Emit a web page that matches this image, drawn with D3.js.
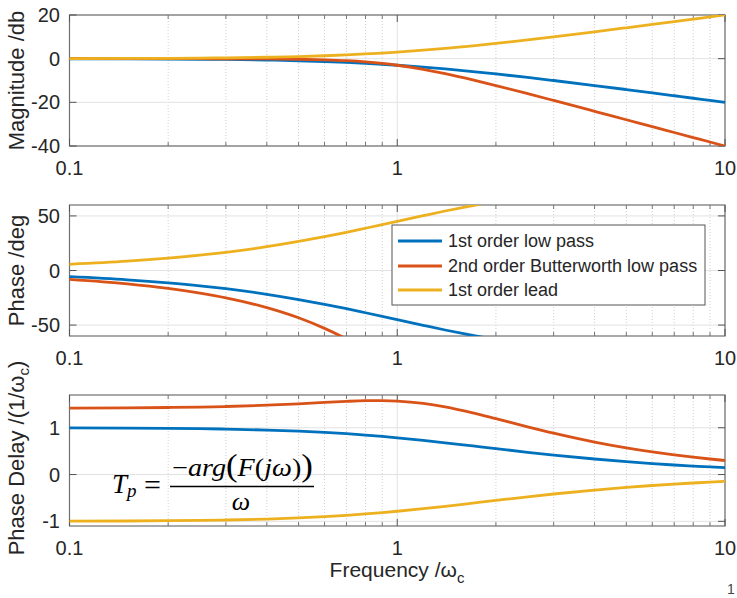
<!DOCTYPE html>
<html><head><meta charset="utf-8">
<script src="https://cdn.jsdelivr.net/npm/d3@7"></script>
<style>
body{margin:0;background:#fff}
</style>
</head><body>
<svg id="chart" width="737" height="598" font-family="Arial, 'Liberation Sans', Helvetica, sans-serif"></svg>
<script>
// ---------- data ----------
const freq = [0.1,0.15,0.2,0.25,0.3,0.4,0.5,0.6,0.7,0.8,0.9,1,1.2,1.4,1.7,2,2.5,3,4,5,6,7,8,9,10];
const seriesNames = ["1st order low pass","2nd order Butterworth low pass","1st order lead"];
const seriesColors = ["#0072BD","#D95319","#EDB120"];

const magLowPass = [-0.04,-0.10,-0.17,-0.26,-0.37,-0.64,-0.97,-1.34,-1.73,-2.15,-2.58,-3.01,-3.87,-4.71,-5.90,-6.99,-8.60,-10.0,-12.30,-14.15,-15.68,-16.99,-18.13,-19.14,-20.04];
const magButter  = [0,0,-0.01,-0.02,-0.04,-0.11,-0.26,-0.53,-0.93,-1.49,-2.19,-3.01,-4.88,-6.85,-9.71,-12.30,-16.03,-19.14,-24.10,-27.97,-31.13,-33.81,-36.13,-38.17,-40.0];
const magLead    = [0.04,0.10,0.17,0.26,0.37,0.64,0.97,1.34,1.73,2.15,2.58,3.01,3.87,4.71,5.90,6.99,8.60,10.0,12.30,14.15,15.68,16.99,18.13,19.14,20.04];

const phaseLowPass = [-5.7,-8.5,-11.3,-14.0,-16.7,-21.8,-26.6,-31.0,-35.0,-38.7,-42.0,-45.0,-50.2,-54.5,-59.5,-63.4,-68.2,-71.6,-76.0,-78.7,-80.5,-81.9,-82.9,-83.7,-84.3];
const phaseButter  = [-8.1,-12.2,-16.4,-20.7,-25.0,-34.0,-43.3,-53.0,-62.7,-72.4,-81.5,-90.0,-104.5,-115.9,-128.2,-136.7,-146.0,-152.1,-159.3,-163.6,-166.4,-168.4,-169.8,-171.0,-171.9];
const phaseLead    = [5.7,8.5,11.3,14.0,16.7,21.8,26.6,31.0,35.0,38.7,42.0,45.0,50.2,54.5,59.5,63.4,68.2,71.6,76.0,78.7,80.5,81.9,82.9,83.7,84.3];

const delayLowPass = [0.997,0.993,0.987,0.980,0.972,0.951,0.927,0.901,0.873,0.843,0.814,0.785,0.730,0.679,0.611,0.554,0.476,0.416,0.332,0.275,0.234,0.204,0.181,0.162,0.147];
const delayButter  = [1.419,1.424,1.433,1.442,1.454,1.482,1.512,1.541,1.564,1.578,1.581,1.571,1.521,1.445,1.316,1.193,1.020,0.885,0.695,0.571,0.484,0.420,0.371,0.332,0.300];
const delayLead    = [-0.997,-0.993,-0.987,-0.980,-0.972,-0.951,-0.927,-0.901,-0.873,-0.843,-0.814,-0.785,-0.730,-0.679,-0.611,-0.554,-0.476,-0.416,-0.332,-0.275,-0.234,-0.204,-0.181,-0.162,-0.147];

const xTicks = [0.1,1,10];
const xTickLabels = ["0.1","1","10"];
const xMinorTicks = [0.2,0.3,0.4,0.5,0.6,0.7,0.8,0.9,2,3,4,5,6,7,8,9];
const magTicks = [-40,-20,0,20];
const phaseTicks = [-50,0,50];
const delayTicks = [-1,0,1];

// ---------- layout ----------
const svg = d3.select("#chart");
const left = 69.5, right = 725;
const x = d3.scaleLog().domain([0.1,10]).range([left,right]);
const textColor = "#262626";

const panels = [
  {top:15, bottom:146, domain:[-40,20], ticks:magTicks, data:[magLowPass,magButter,magLead], label:"Magnitude /db"},
  {top:205, bottom:336, domain:[-60,60], ticks:phaseTicks, data:[phaseLowPass,phaseButter,phaseLead], label:"Phase /deg"},
  {top:395, bottom:526, domain:[-1.1,1.7], ticks:delayTicks, data:[delayLowPass,delayButter,delayLead], label:null}
];

panels.forEach((p,i) => {
  const y = d3.scaleLinear().domain(p.domain).range([p.bottom,p.top]);
  const g = svg.append("g");
  // minor grid
  g.selectAll(".mg").data(xMinorTicks).join("line")
    .attr("x1",d=>x(d)).attr("x2",d=>x(d)).attr("y1",p.top).attr("y2",p.bottom)
    .attr("stroke","#cfcfcf").attr("stroke-width",1).attr("stroke-dasharray","1,2");
  // major grid
  g.selectAll(".gx").data(xTicks).join("line")
    .attr("x1",d=>x(d)).attr("x2",d=>x(d)).attr("y1",p.top).attr("y2",p.bottom)
    .attr("stroke","#e2e2e2").attr("stroke-width",1);
  g.selectAll(".gy").data(p.ticks).join("line")
    .attr("x1",left).attr("x2",right).attr("y1",d=>y(d)).attr("y2",d=>y(d))
    .attr("stroke","#e2e2e2").attr("stroke-width",1);
  // box
  g.append("rect").attr("x",left).attr("y",p.top).attr("width",right-left).attr("height",p.bottom-p.top)
    .attr("fill","none").attr("stroke","#707070").attr("stroke-width",1.2);
  // y ticks (left & right, inward)
  p.ticks.forEach(t => {
    g.append("line").attr("x1",left).attr("x2",left+7).attr("y1",y(t)).attr("y2",y(t)).attr("stroke","#555").attr("stroke-width",1);
    g.append("line").attr("x1",right).attr("x2",right-7).attr("y1",y(t)).attr("y2",y(t)).attr("stroke","#555").attr("stroke-width",1);
  });
  // x ticks (bottom & top, inward)
  xTicks.forEach(t => {
    g.append("line").attr("x1",x(t)).attr("x2",x(t)).attr("y1",p.bottom).attr("y2",p.bottom-7).attr("stroke","#555");
    g.append("line").attr("x1",x(t)).attr("x2",x(t)).attr("y1",p.top).attr("y2",p.top+7).attr("stroke","#555");
  });
  xMinorTicks.forEach(t => {
    g.append("line").attr("x1",x(t)).attr("x2",x(t)).attr("y1",p.bottom).attr("y2",p.bottom-4).attr("stroke","#777");
    g.append("line").attr("x1",x(t)).attr("x2",x(t)).attr("y1",p.top).attr("y2",p.top+4).attr("stroke","#777");
  });
  // tick labels
  g.selectAll(".yl").data(p.ticks).join("text")
    .attr("x",60).attr("y",d=>y(d)).attr("dy","0.35em").attr("text-anchor","end")
    .attr("font-size",20).attr("fill",textColor).text(d=>d);
  g.selectAll(".xl").data(xTicks).join("text")
    .attr("x",d=>x(d)).attr("y",p.bottom+29).attr("text-anchor","middle")
    .attr("font-size",20).attr("fill",textColor).text((d,k)=>xTickLabels[k]);
  // clip + lines
  const cid = "clip"+i;
  svg.append("clipPath").attr("id",cid).append("rect")
    .attr("x",left-2).attr("y",p.top).attr("width",right-left+4).attr("height",p.bottom-p.top);
  const lg = svg.append("g").attr("clip-path",`url(#${cid})`);
  const line = d3.line().x((d,k)=>x(freq[k])).y(d=>y(d)).curve(d3.curveMonotoneX);
  p.data.forEach((s,k) => {
    lg.append("path").datum(s).attr("d",line).attr("fill","none")
      .attr("stroke",seriesColors[k]).attr("stroke-width",2.8).attr("stroke-linejoin","round");
  });
  // y label
  if (p.label) {
    svg.append("text").attr("transform",`translate(24,${(p.top+p.bottom)/2}) rotate(-90)`)
      .attr("text-anchor","middle").attr("font-size",22).attr("fill",textColor).text(p.label);
  }
});

// phase delay label with subscript
{
  const t = svg.append("text").attr("transform","translate(24,458) rotate(-90)")
    .attr("text-anchor","middle").attr("font-size",22).attr("fill",textColor);
  t.append("tspan").text("Phase Delay /(1/ω");
  t.append("tspan").attr("font-size",15).attr("dy",5).text("c");
  t.append("tspan").attr("dy",-5).text(")");
}

// x label
{
  const t = svg.append("text").attr("x",397).attr("y",577).attr("text-anchor","middle")
    .attr("font-size",21).attr("fill",textColor);
  t.append("tspan").text("Frequency /ω");
  t.append("tspan").attr("font-size",15).attr("dy",6).text("c");
}

// legend
{
  const lg = svg.append("g");
  lg.append("rect").attr("x",392).attr("y",225).attr("width",313).attr("height",80)
    .attr("fill","#fff").attr("stroke","#555").attr("stroke-width",1);
  const rows = [241,266,290];
  seriesNames.forEach((n,k) => {
    lg.append("line").attr("x1",398).attr("x2",442).attr("y1",rows[k]).attr("y2",rows[k])
      .attr("stroke",seriesColors[k]).attr("stroke-width",2.8);
    lg.append("text").attr("x",448).attr("y",rows[k]).attr("dy","0.35em")
      .attr("font-size",18).attr("fill",textColor).text(n);
  });
}

// equation annotation
{
  const eq = svg.append("g").attr("fill","#000")
    .attr("font-family","'Liberation Serif', 'DejaVu Serif', serif");
  const tp = eq.append("text").attr("x",112).attr("y",493).attr("font-size",27).attr("font-style","italic");
  tp.append("tspan").text("T");
  tp.append("tspan").attr("font-size",19).attr("dy",4).text("p");
  eq.append("text").attr("x",144).attr("y",495).attr("font-size",30).text("=");
  const num = eq.append("text").attr("x",0).attr("y",0).attr("font-size",25);
  num.append("tspan").attr("font-style","normal").text("−");
  num.append("tspan").attr("font-style","italic").text("arg");
  num.append("tspan").attr("font-size",31).attr("font-style","normal").text("(");
  num.append("tspan").attr("font-style","italic").text("F");
  num.append("tspan").attr("font-style","normal").text("(");
  num.append("tspan").attr("font-style","italic").text("jω");
  num.append("tspan").attr("font-style","normal").text(")");
  num.append("tspan").attr("font-size",31).attr("font-style","normal").text(")");
  const w = num.node().getComputedTextLength();
  num.attr("transform",`translate(172,476) scale(${141/w},1)`);
  eq.append("line").attr("x1",170).attr("x2",314).attr("y1",486.5).attr("y2",486.5)
    .attr("stroke","#000").attr("stroke-width",1.4);
  eq.append("text").attr("x",241).attr("y",510).attr("text-anchor","middle")
    .attr("font-size",26).attr("font-style","italic").text("ω");
}

// page number at the bottom right
svg.append("text").attr("x",727).attr("y",594).attr("font-size",14).attr("fill","#444").text("1");
</script>
</body></html>
